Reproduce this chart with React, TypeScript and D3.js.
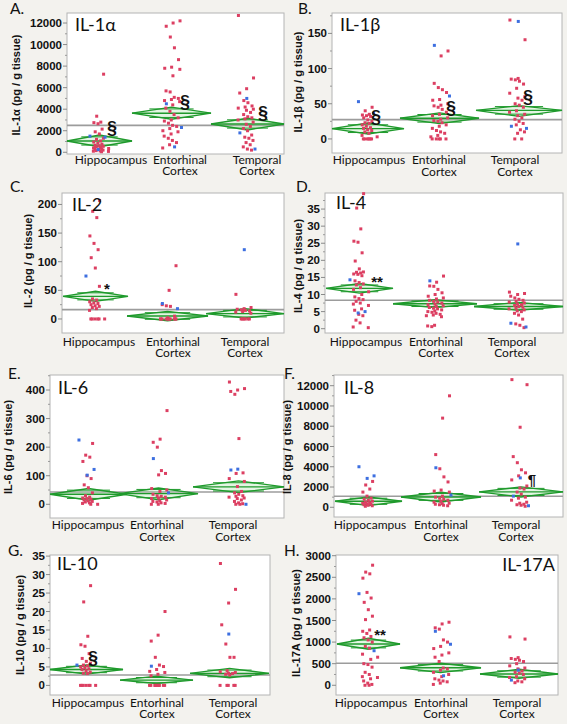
import React from "react";
import * as d3 from "d3";

const CATEGORIES = ["Hippocampus", "Entorhinal Cortex", "Temporal Cortex"];
const CAT_LINES = [["Hippocampus"], ["Entorhinal", "Cortex"], ["Temporal", "Cortex"]];

// ---------- A. IL-1α ----------
const il1aRed = [
  [7250, 3350, 2800, 2750, 2650, 2150, 1900, 1700, 1300, 1200, 1050, 950, 850, 750, 650, 600, 550, 500, 450, 400, 350, 300, 280, 250, 200, 150, 120, 100, 80, 50],
  [12200, 12000, 11700, 10700, 9700, 8600, 7900, 7800, 7700, 7100, 5700, 5600, 5100, 5000, 4900, 4800, 4700, 4400, 4100, 3800, 3500, 3200, 3000, 2900, 2700, 2500, 2400, 2200, 2000, 1900, 1700, 1500, 1300, 1100, 900, 700, 400],
  [12700, 6900, 5900, 5500, 4800, 4600, 4300, 4200, 4100, 4000, 3900, 3700, 3500, 3300, 3200, 3100, 3000, 2800, 2600, 2400, 2200, 2000, 1600, 1400, 1300, 1100, 900, 700, 500, 300, 200],
];
const il1aBlue = [[1500, 1400, 250], [4500, 2300, 500], [5000, 1800, 300]];
const il1aMeans = [1050, 3630, 2630];
const il1aLower = [520, 3070, 2070];
const il1aUpper = [1600, 4190, 3160];
const il1aGrand = 2500;
const il1aTicks = [0, 2000, 4000, 6000, 8000, 10000, 12000];
const il1aDomain = [-160, 12930];

// ---------- B. IL-1β ----------
const il1bRed = [
  [45, 40, 35, 34, 33, 32, 30, 27, 25, 23, 22, 20, 18, 16, 15, 13, 12, 10, 8, 5, 3, 0, 0, 0, 0, 0, 0],
  [125, 118, 79, 73, 70, 66, 56, 55, 50, 48, 47, 45, 42, 38, 35, 33, 30, 28, 26, 25, 23, 20, 18, 15, 12, 10, 8, 5, 3, 0, 0, 0, 0, 0],
  [169, 141, 86, 85, 84, 82, 78, 72, 65, 60, 58, 55, 50, 48, 45, 40, 38, 35, 33, 30, 28, 25, 22, 20, 13, 10, 8, 0, 0],
];
const il1bBlue = [[53, 36], [133, 61], [167, 18, 15]];
const il1bMeans = [14.6, 29.3, 40.6];
const il1bLower = [7.1, 21.7, 32.1];
const il1bUpper = [22.7, 37, 47.3];
const il1bGrand = 27.4;
const il1bTicks = [0, 50, 100, 150];
const il1bDomain = [-20, 179];

// ---------- C. IL-2 ----------
const il2Red = [
  [207, 188, 177, 145, 132, 121, 107, 89, 57, 35, 33, 30, 28, 27, 25, 23, 22, 20, 18, 15, 0, 0, 0, 0, 0, 0],
  [93, 50, 25, 23, 22, 5, 2, 0, 0, 0, 0, 0, 0, 0, 0, 0, 0, 0],
  [43, 20, 18, 17, 16, 15, 14, 13, 12, 10, 0, 0, 0, 0, 0, 0],
];
const il2Blue = [[75], [27, 18], [121]];
const il2Means = [39.5, 5.2, 9.3];
const il2Lower = [30.8, -3, 1.7];
const il2Upper = [48.3, 13.3, 18];
const il2Grand = 16.3;
const il2Ticks = [0, 50, 100, 150, 200];
const il2Domain = [-24.5, 220];

// ---------- D. IL-4 ----------
const il4Red = [
  [39.5, 35.3, 29.2, 25.6, 25.3, 22.2, 19.8, 17.5, 16.6, 16.5, 16.3, 16, 15.9, 15.5, 14, 13.5, 13.1, 12.8, 12, 11.5, 10.8, 10, 9.3, 8.8, 8.5, 8, 7.5, 7.2, 6.8, 5.8, 5.4, 4.2, 3.8, 2.5, 1.7, 0.5, 0.3],
  [15.4, 13.6, 12.5, 12.4, 11.5, 10.5, 10, 9.5, 9, 8.7, 8.3, 8, 7.8, 7.5, 7.2, 7, 6.7, 6.5, 6.2, 6, 5.8, 5.5, 5.2, 5, 4.8, 4.5, 4.2, 4, 3.8, 3.5, 1, 0.8, 0.6],
  [10.7, 10.3, 10, 9.5, 9, 8.6, 8.3, 8, 7.8, 7.5, 7.2, 7, 6.8, 6.5, 6.3, 6, 5.8, 5.5, 5.2, 5, 4.5, 4, 2.8, 1.4, 1.0, 0.3],
];
const il4Blue = [[14.3, 5.0, 4.6], [14], [24.8, 1.6, 0.5]];
const il4Means = [11.8, 7.3, 6.5];
const il4Lower = [10.4, 6.2, 5.4];
const il4Upper = [13.2, 8.5, 7.7];
const il4Grand = 8.3;
const il4Ticks = [0, 5, 10, 15, 20, 25, 30, 35];
const il4Domain = [-1.26, 39.7];

// ---------- E. IL-6 ----------
const il6Red = [
  [213, 172, 165, 150, 100, 90, 68, 58, 40, 30, 25, 22, 20, 18, 15, 12, 10, 8, 5, 3, 0, 0],
  [328, 228, 217, 200, 118, 108, 103, 55, 50, 45, 35, 30, 28, 25, 22, 20, 15, 12, 10, 8, 5, 3, 0, 0],
  [428, 405, 400, 395, 385, 230, 110, 108, 90, 80, 62, 45, 40, 35, 30, 28, 25, 22, 20, 15, 10, 5, 2, 0, 0],
];
const il6Blue = [[225, 122, 102], [160, 40], [123, 120, 0]];
const il6Means = [35, 37.5, 61];
const il6Lower = [14, 16, 41];
const il6Upper = [55, 57, 82];
const il6Grand = 43.2;
const il6Ticks = [0, 100, 200, 300, 400];
const il6Domain = [-48, 452.6];

// ---------- F. IL-8 ----------
const il8Red = [
  [2550, 2200, 1800, 1500, 1100, 900, 800, 700, 600, 500, 450, 400, 350, 300, 250, 200, 150, 100],
  [11000, 8800, 5200, 3800, 3000, 2500, 1700, 1600, 1500, 1100, 1000, 900, 800, 700, 600, 500, 400, 350, 300, 250, 200, 150],
  [12600, 12100, 7900, 5000, 4400, 3700, 3400, 3100, 2700, 2100, 1900, 1800, 1500, 1300, 1000, 900, 700, 500, 400, 300, 250, 200, 100],
];
const il8Blue = [[4000, 3100, 2850], [3900, 1200], [2900, 1100, 150]];
const il8Means = [593, 1020, 1516];
const il8Lower = [165, 527, 1020];
const il8Upper = [1020, 1484, 2010];
const il8Grand = 1088;
const il8Ticks = [0, 2000, 4000, 6000, 8000, 10000, 12000];
const il8Domain = [-960, 13056];

// ---------- G. IL-10 ----------
const il10Red = [
  [27, 22.6, 13.3, 11, 10.6, 8.6, 7.3, 6.5, 6, 5.5, 5.3, 5, 4.8, 4.5, 4.3, 4, 3.6, 3.3, 3.2, 0, 0, 0, 0, 0, 0, 0],
  [20, 13.6, 12, 7.6, 5.5, 5.1, 4.3, 3.8, 3.5, 3.0, 2.6, 0, 0, 0, 0, 0, 0, 0, 0, 0, 0],
  [33, 26, 22.3, 16.4, 11.2, 7.6, 7.6, 4, 3.7, 3.5, 3.3, 3.2, 3, 2.8, 0, 0, 0, 0, 0],
];
const il10Blue = [[5.5], [5.2], [13.9]];
const il10Means = [4.3, 1.43, 3.25];
const il10Lower = [3.06, 0.5, 2.06];
const il10Upper = [5.5, 2.5, 4.6];
const il10Grand = 2.8;
const il10Ticks = [0, 5, 10, 15, 20, 25, 30, 35];
const il10Domain = [-2.6, 35.3];

// ---------- H. IL-17A ----------
const il17Red = [
  [2780, 2620, 2580, 2480, 2150, 2020, 1920, 1750, 1600, 1520, 1280, 1250, 1200, 1130, 1100, 1050, 1000, 900, 860, 720, 650, 600, 500, 480, 420, 300, 250, 200, 180, 150, 100, 50, 20, 0, 0],
  [1460, 1420, 1330, 1300, 1050, 1000, 900, 850, 750, 700, 650, 550, 400, 380, 350, 300, 250, 200, 150, 120, 100, 80, 50, 20],
  [1120, 1070, 640, 620, 600, 580, 550, 500, 450, 400, 380, 330, 300, 280, 250, 200, 180, 150, 100, 80, 60],
];
const il17Blue = [[2120, 800], [1250, 950, 220], [350, 120]];
const il17Means = [956, 407, 262];
const il17Lower = [833, 292, 162];
const il17Upper = [1088, 509, 370];
const il17Grand = 509;
const il17Ticks = [0, 500, 1000, 1500, 2000, 2500, 3000];
const il17Domain = [-225, 3016];

// ---------- layout ----------
const PANELS = [
  {
    letter: "A.", title: "IL-1α", yTitle: "IL-1α (pg / g tissue)",
    red: il1aRed, blue: il1aBlue, means: il1aMeans, lower: il1aLower, upper: il1aUpper, grand: il1aGrand, ticks: il1aTicks, domain: il1aDomain,
    frame: [67, 13, 284, 154], slots: [[67, 132], [132, 211], [211, 284]],
    labelX: [111, 180, 257], labelY: 163.5, letterPos: [10, 14], titlePos: [75, 31], titleAnchor: "start", yTitlePos: [16, 85],
    marks: [{ t: "§", x: 112, y: 128 }, { t: "§", x: 185, y: 102 }, { t: "§", x: 263, y: 113 }],
  },
  {
    letter: "B.", title: "IL-1β", yTitle: "IL-1β (pg / g tissue)",
    red: il1bRed, blue: il1bBlue, means: il1bMeans, lower: il1bLower, upper: il1bUpper, grand: il1bGrand, ticks: il1bTicks, domain: il1bDomain,
    frame: [332, 13, 562, 153], slots: [[332, 404], [400, 479], [476, 562]],
    labelX: [369, 439, 515], labelY: 164, letterPos: [298, 14], titlePos: [340, 31], titleAnchor: "start", yTitlePos: [298, 82],
    marks: [{ t: "§", x: 376, y: 117 }, { t: "§", x: 451, y: 108 }, { t: "§", x: 528, y: 97 }],
  },
  {
    letter: "C.", title: "IL-2", yTitle: "IL-2 (pg / g tissue)",
    red: il2Red, blue: il2Blue, means: il2Means, lower: il2Lower, upper: il2Upper, grand: il2Grand, ticks: il2Ticks, domain: il2Domain,
    frame: [62, 193, 284, 333], slots: [[63, 128], [127, 208], [206, 284]],
    labelX: [99, 173, 245], labelY: 345.5, letterPos: [10, 192], titlePos: [72, 211], titleAnchor: "start", yTitlePos: [28, 261],
    marks: [{ t: "*", x: 107, y: 289 }],
  },
  {
    letter: "D.", title: "IL-4", yTitle: "IL-4 (pg / g tissue)",
    red: il4Red, blue: il4Blue, means: il4Means, lower: il4Lower, upper: il4Upper, grand: il4Grand, ticks: il4Ticks, domain: il4Domain,
    frame: [325, 193, 563, 333], slots: [[326, 393], [393, 477], [474, 563]],
    labelX: [366, 436, 512], labelY: 345.5, letterPos: [296, 192], titlePos: [336, 209], titleAnchor: "start", yTitlePos: [298, 266],
    marks: [{ t: "**", x: 377, y: 282 }],
  },
  {
    letter: "E.", title: "IL-6", yTitle: "IL-6 (pg / g tissue)",
    red: il6Red, blue: il6Blue, means: il6Means, lower: il6Lower, upper: il6Upper, grand: il6Grand, ticks: il6Ticks, domain: il6Domain,
    frame: [50, 375, 284, 518], slots: [[50, 127], [119, 198], [193, 284]],
    labelX: [88, 157, 233], labelY: 529, letterPos: [8, 379], titlePos: [58, 394], titleAnchor: "start", yTitlePos: [8, 447],
    marks: [],
  },
  {
    letter: "F.", title: "IL-8", yTitle: "IL-8 (pg / g tissue)",
    red: il8Red, blue: il8Blue, means: il8Means, lower: il8Lower, upper: il8Upper, grand: il8Grand, ticks: il8Ticks, domain: il8Domain,
    frame: [334, 375, 563, 517], slots: [[335, 402], [401, 481], [479, 563]],
    labelX: [370, 441, 516], labelY: 529, letterPos: [284, 379], titlePos: [344, 394], titleAnchor: "start", yTitlePos: [287, 447],
    marks: [{ t: "¶", x: 532, y: 480 }],
  },
  {
    letter: "G.", title: "IL-10", yTitle: "IL-10 (pg / g tissue)",
    red: il10Red, blue: il10Blue, means: il10Means, lower: il10Lower, upper: il10Upper, grand: il10Grand, ticks: il10Ticks, domain: il10Domain,
    frame: [50, 555, 270, 695], slots: [[50, 123], [120, 193], [190, 269]],
    labelX: [88, 157, 233], labelY: 706.5, letterPos: [8, 556], titlePos: [57, 570], titleAnchor: "start", yTitlePos: [20, 625],
    marks: [{ t: "§", x: 93, y: 658 }],
  },
  {
    letter: "H.", title: "IL-17A", yTitle: "IL-17A (pg / g tissue)",
    red: il17Red, blue: il17Blue, means: il17Means, lower: il17Lower, upper: il17Upper, grand: il17Grand, ticks: il17Ticks, domain: il17Domain,
    frame: [336, 555, 558, 695], slots: [[337, 400], [400, 481], [480, 558]],
    labelX: [371, 441, 517], labelY: 706.5, letterPos: [284, 556], titlePos: [555, 571], titleAnchor: "end", yTitlePos: [296, 623],
    marks: [{ t: "**", x: 380, y: 635 }],
  },
];

const RED = "#dc3f62";
const BLUE = "#3d6fe0";
const GREEN = "#1f9a2c";
const LABEL_FONT = "Lato, 'Liberation Sans', sans-serif";
const TICK_FONT = "'Liberation Sans', Arial, sans-serif";

// deterministic jitter (two golden-ratio sequences averaged -> triangular), in [-1, 1]
const frac = (v: number) => v - Math.floor(v);
const jit = (i: number, g: number, k: number) =>
  frac((i + 1) * 0.6180339887 + g * 0.271 + k * 0.47) + frac((i + 1) * 0.7548776662 + g * 0.13 + k * 0.29) - 1;

function Panel({ p }: { p: any }) {
  const [fx0, fy0, fx1, fy1] = p.frame;
  const y = d3.scaleLinear().domain(p.domain).range([fy1, fy0]);
  const step = p.ticks[1] - p.ticks[0];
  const minor = p.ticks.map((t: number) => t + step / 2).filter((t: number) => y(t) > fy0);
  const spread = 11;

  return (
    <g>
      <rect x={fx0} y={fy0} width={fx1 - fx0} height={fy1 - fy0} fill="#ffffff" stroke="#b4b4b4" strokeWidth={1} />
      {p.ticks.map((t: number) => (
        <g key={"t" + t}>
          <line x1={fx0 - 4} x2={fx0} y1={y(t)} y2={y(t)} stroke="#8a8a8a" strokeWidth={1} />
          <text x={fx0 - 5} y={y(t)} dy="0.35em" textAnchor="end" fontFamily={TICK_FONT} fontWeight={600} fontSize={11.5} fill="#111">
            {t}
          </text>
        </g>
      ))}
      {minor.map((t: number) => (
        <line key={"m" + t} x1={fx0 - 2} x2={fx0} y1={y(t)} y2={y(t)} stroke="#9a9a9a" strokeWidth={1} />
      ))}
      <line x1={fx0} x2={fx1} y1={y(p.grand)} y2={y(p.grand)} stroke="#9c9c9c" strokeWidth={1.6} />
      {CATEGORIES.map((c, g) => {
        const [x0, x1] = p.slots[g];
        const xc = (x0 + x1) / 2;
        const m = y(p.means[g]);
        const up = y(p.upper[g]);
        const lo = y(p.lower[g]);
        const half = (lo - up) / 2;
        const ov = half / Math.SQRT2;
        const w = x1 - x0;
        const path = d3.line()([[x0, m], [xc, up], [x1, m], [xc, lo], [x0, m]]);
        return (
          <g key={"d" + g}>
            <path d={path || ""} fill="#8fd88f" fillOpacity={0.25} stroke={GREEN} strokeWidth={1.4} />
            <line x1={x0} x2={x1} y1={m} y2={m} stroke={GREEN} strokeWidth={1.4} />
            <line x1={x0 + w * 0.22} x2={x1 - w * 0.22} y1={m - ov} y2={m - ov} stroke={GREEN} strokeWidth={1} />
            <line x1={x0 + w * 0.22} x2={x1 - w * 0.22} y1={m + ov} y2={m + ov} stroke={GREEN} strokeWidth={1} />
          </g>
        );
      })}
      {CATEGORIES.map((c, g) => {
        const [x0, x1] = p.slots[g];
        const xc = (x0 + x1) / 2;
        return (
          <g key={"p" + g}>
            {p.red[g].map((v: number, i: number) => (
              <rect key={"r" + i} x={xc + jit(i, g, 0) * spread - 1.5} y={y(v) - 1.5} width={3} height={3} fill={RED} />
            ))}
            {p.blue[g].map((v: number, i: number) => (
              <rect key={"b" + i} x={xc + jit(i, g, 1) * spread - 1.5} y={y(v) - 1.5} width={3} height={3} fill={BLUE} />
            ))}
          </g>
        );
      })}
      {p.marks.map((mk: any, i: number) => (
        <text key={"s" + i} x={mk.x} y={mk.y} dy="0.35em" textAnchor="middle" fontFamily={TICK_FONT} fontWeight={700} fontSize={mk.t === "§" ? 18 : 15} fill="#111">
          {mk.t}
        </text>
      ))}
      {CAT_LINES.map((lines, g) => (
        <text key={"c" + g} x={p.labelX[g]} y={p.labelY} textAnchor="middle" fontFamily={LABEL_FONT} fontSize={12} fill="#111">
          {lines.map((ln, j) => (
            <tspan key={j} x={p.labelX[g]} dy={j === 0 ? 0 : 11.7}>
              {ln}
            </tspan>
          ))}
        </text>
      ))}
      <text
        transform={`translate(${p.yTitlePos[0]},${p.yTitlePos[1]}) rotate(-90)`}
        dy="0.35em"
        textAnchor="middle"
        fontFamily={TICK_FONT}
        fontWeight={700}
        fontSize={11}
        fill="#111"
      >
        {p.yTitle}
      </text>
      <text x={p.titlePos[0]} y={p.titlePos[1]} textAnchor={p.titleAnchor} fontFamily={LABEL_FONT} fontSize={18} fill="#111">
        {p.title}
      </text>
      <text x={p.letterPos[0]} y={p.letterPos[1]} fontFamily={LABEL_FONT} fontSize={15.5} fill="#111">
        {p.letter}
      </text>
    </g>
  );
}

export default function App() {
  return (
    <svg width={567} height={724} style={{ position: "absolute", left: 0, top: 0, display: "block" }}>
      <rect x={0} y={0} width={567} height={724} fill="#f3f2ee" />
      {PANELS.map((p, i) => (
        <Panel key={i} p={p} />
      ))}
    </svg>
  );
}
